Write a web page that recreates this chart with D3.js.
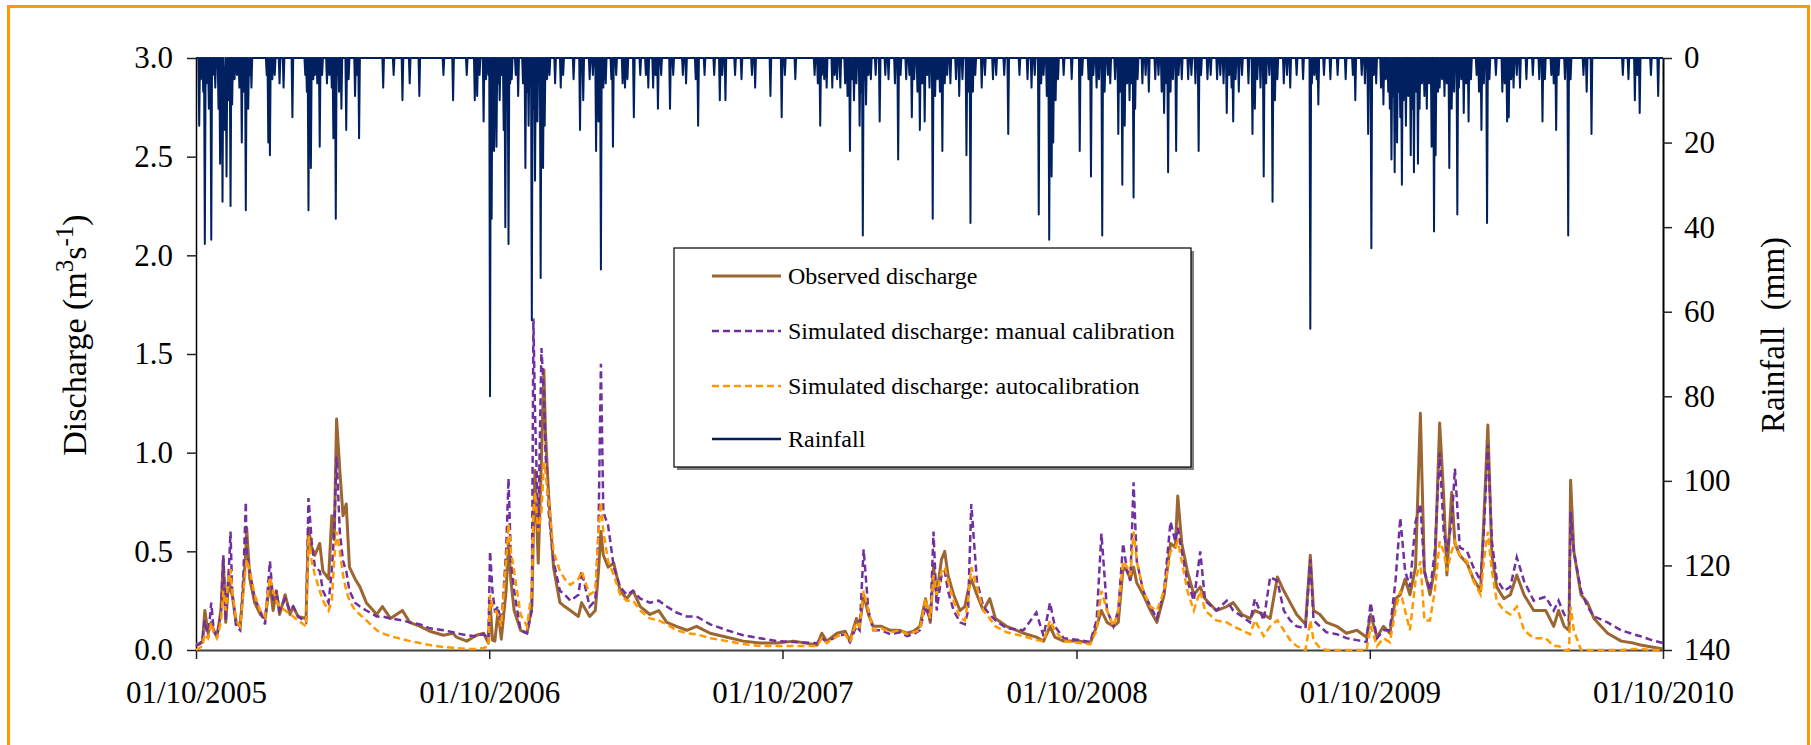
<!DOCTYPE html>
<html>
<head>
<meta charset="utf-8">
<script src="https://cdn.jsdelivr.net/npm/d3@7"></script>
<style>
body { margin: 0; background: #fff; }
svg { display: block; font-family: "Liberation Serif", "Times New Roman", serif; }
</style>
</head>
<body>
<div class="chart"></div>
<script>
var width = 1811,
    height = 745;
var plotLeft = 196, plotRight = 1663, plotTop = 58, plotBottom = 650;

// x axis: days counted from 01/10/2005
var startDate = new Date(2005, 9, 1);
var tickDates = ["2005-10-01", "2006-10-01", "2007-10-01", "2008-10-01", "2009-10-01", "2010-10-01"];
var qTicks = [0, 0.5, 1.0, 1.5, 2.0, 2.5, 3.0];
var rainTicks = [0, 20, 40, 60, 80, 100, 120, 140];

// discharge (m3/s) read at these days
var qDays = [0,4,8,11,15,19,22,26,31,34,37,41,43,45,50,55,59,62,63,67,73,80,86,92,96,100,104,111,117,121,127,137,
  140,144,148,154,158,165,169,172,175,179,183,187,191,198,204,212,225,232,242,257,266,279,291,308,320,324,337,349,358,364,
  366,369,372,376,380,386,389,392,396,404,412,418,420,422,426,430,433,435,439,445,453,459,466,476,480,490,497,
  501,504,507,513,520,528,536,544,553,565,576,586,598,611,623,640,661,681,702,723,744,773,779,785,798,808,814,
  822,826,831,837,843,853,864,876,885,893,901,908,914,918,922,928,932,936,943,951,957,961,965,972,980,988,995,
  1009,1030,1046,1055,1063,1069,1080,1100,1113,1121,1127,1134,1142,1148,1154,1159,1163,1167,1171,1179,1188,1196,
  1205,1213,1219,1222,1227,1234,1242,1250,1256,1270,1283,1291,1302,1312,1318,1329,1337,1346,1354,1362,1370,1381,
  1387,1391,1399,1407,1420,1432,1445,1457,1462,1470,1478,1486,1493,1499,1505,1511,1518,1524,1529,1536,1542,1548,
  1553,1557,1563,1567,1573,1582,1590,1599,1603,1608,1613,1619,1628,1636,1644,1653,1665,1680,1690,1696,1703,1709,
  1711,1715,1724,1732,1740,1757,1774,1789,1798,1812,1826];

var observed = [0.03,0.03,0.04,0.2,0.085,0.14,0.1,0.065,0.2,0.46,0.14,0.38,0.3,0.28,0.14,0.12,0.32,0.5,0.62,0.36,0.24,0.18,0.16,0.34,0.2,0.3,0.18,0.28,0.18,0.22,0.17,0.16,
  0.62,0.52,0.48,0.54,0.4,0.36,0.68,0.56,1.17,0.91,0.68,0.74,0.42,0.36,0.32,0.24,0.18,0.22,0.16,0.2,0.14,0.12,0.095,0.075,0.085,0.065,0.045,0.075,0.085,0.035,
  0.25,0.05,0.045,0.2,0.055,0.3,0.54,0.35,0.2,0.1,0.085,0.22,0.6,0.91,0.44,0.97,1.42,1.1,0.78,0.42,0.24,0.22,0.2,0.17,0.24,0.17,0.2,
  0.4,0.6,0.48,0.42,0.44,0.3,0.26,0.3,0.22,0.18,0.2,0.14,0.12,0.1,0.12,0.085,0.065,0.045,0.035,0.035,0.045,0.025,0.085,0.045,0.085,0.095,0.045,
  0.16,0.12,0.28,0.18,0.12,0.12,0.1,0.1,0.085,0.095,0.12,0.26,0.14,0.42,0.28,0.46,0.5,0.38,0.28,0.2,0.22,0.3,0.36,0.28,0.2,0.26,0.16,
  0.12,0.085,0.065,0.045,0.12,0.065,0.045,0.045,0.035,0.12,0.2,0.14,0.12,0.14,0.42,0.4,0.36,0.42,0.34,0.28,0.2,0.14,
  0.28,0.54,0.52,0.78,0.54,0.4,0.28,0.32,0.26,0.2,0.22,0.24,0.18,0.16,0.2,0.18,0.16,0.37,0.3,0.24,0.18,0.13,
  0.48,0.2,0.18,0.14,0.12,0.085,0.1,0.065,0.18,0.065,0.12,0.085,0.26,0.28,0.36,0.28,0.42,1.2,0.4,0.28,0.42,1.15,
  0.78,0.38,0.8,0.54,0.48,0.44,0.36,0.3,0.66,1.14,0.48,0.32,0.26,0.28,0.38,0.28,0.2,0.2,0.12,0.2,0.12,0.1,
  0.86,0.5,0.28,0.24,0.16,0.085,0.045,0.035,0.025,0.015,0.005];

var manual = [0.02,0.03,0.05,0.15,0.06,0.24,0.1,0.07,0.18,0.48,0.15,0.42,0.6,0.3,0.12,0.1,0.38,0.75,0.5,0.4,0.26,0.2,0.13,0.45,0.25,0.3,0.2,0.26,0.2,0.22,0.17,0.14,
  0.77,0.55,0.42,0.4,0.3,0.24,0.4,0.6,0.98,0.6,0.45,0.4,0.3,0.24,0.22,0.2,0.17,0.17,0.16,0.15,0.14,0.13,0.11,0.1,0.09,0.085,0.075,0.07,0.08,0.06,
  0.5,0.3,0.2,0.22,0.12,0.5,0.87,0.45,0.3,0.1,0.085,0.2,1.68,1.2,0.6,1.53,1.3,1.0,0.7,0.45,0.3,0.28,0.25,0.28,0.4,0.22,0.25,
  0.6,1.45,0.7,0.63,0.42,0.32,0.28,0.3,0.26,0.24,0.25,0.22,0.19,0.17,0.17,0.13,0.1,0.075,0.06,0.045,0.04,0.035,0.06,0.04,0.07,0.08,0.04,
  0.12,0.1,0.51,0.2,0.1,0.1,0.08,0.09,0.07,0.08,0.1,0.22,0.15,0.6,0.2,0.38,0.4,0.3,0.2,0.14,0.13,0.2,0.74,0.35,0.22,0.18,0.15,
  0.11,0.1,0.19,0.07,0.24,0.12,0.06,0.05,0.04,0.15,0.59,0.2,0.12,0.2,0.54,0.4,0.35,0.85,0.45,0.3,0.22,0.16,
  0.3,0.65,0.55,0.62,0.5,0.35,0.25,0.5,0.25,0.2,0.25,0.2,0.17,0.14,0.26,0.15,0.37,0.35,0.2,0.15,0.12,0.11,
  0.46,0.15,0.12,0.09,0.08,0.06,0.05,0.04,0.24,0.06,0.1,0.1,0.35,0.67,0.4,0.32,0.65,0.74,0.4,0.3,0.5,1.0,
  0.6,0.5,0.65,0.92,0.52,0.5,0.42,0.35,0.6,1.04,0.55,0.36,0.3,0.32,0.47,0.35,0.25,0.27,0.2,0.25,0.18,0.15,
  0.7,0.5,0.3,0.22,0.17,0.14,0.1,0.08,0.07,0.05,0.035];

var auto = [0,0.01,0.02,0.08,0.06,0.14,0.09,0.06,0.14,0.3,0.2,0.38,0.41,0.3,0.15,0.12,0.3,0.42,0.46,0.4,0.28,0.2,0.17,0.37,0.3,0.25,0.22,0.2,0.18,0.17,0.15,0.12,
  0.58,0.45,0.38,0.3,0.25,0.2,0.25,0.45,0.6,0.5,0.38,0.3,0.25,0.2,0.18,0.15,0.1,0.085,0.07,0.055,0.045,0.035,0.025,0.015,0.012,0.01,0.005,0.005,0.01,0.02,
  0.28,0.22,0.2,0.18,0.12,0.45,0.64,0.5,0.4,0.18,0.12,0.3,0.7,0.8,0.6,0.7,0.95,0.9,0.75,0.5,0.4,0.36,0.33,0.36,0.4,0.28,0.3,
  0.6,0.75,0.6,0.45,0.38,0.28,0.25,0.25,0.2,0.16,0.15,0.13,0.1,0.085,0.08,0.06,0.045,0.03,0.02,0.02,0.02,0.02,0.06,0.035,0.07,0.08,0.04,
  0.14,0.12,0.3,0.2,0.1,0.11,0.09,0.1,0.08,0.09,0.1,0.26,0.16,0.38,0.28,0.4,0.42,0.35,0.25,0.16,0.15,0.25,0.42,0.32,0.2,0.16,0.12,
  0.09,0.07,0.05,0.045,0.15,0.1,0.045,0.035,0.03,0.1,0.3,0.2,0.12,0.2,0.45,0.42,0.38,0.6,0.45,0.3,0.22,0.2,
  0.3,0.5,0.52,0.55,0.45,0.3,0.2,0.3,0.2,0.15,0.14,0.12,0.1,0.08,0.15,0.07,0.12,0.15,0.1,0.05,0.02,0,
  0.15,0.05,0.01,0,0,0,0,0,0.12,0.02,0.06,0.04,0.2,0.3,0.2,0.1,0.35,0.45,0.15,0.15,0.3,0.55,
  0.5,0.4,0.5,0.55,0.48,0.45,0.35,0.28,0.45,0.6,0.4,0.25,0.2,0.18,0.22,0.1,0.06,0.06,0.02,0.02,0,0,
  0.22,0.1,0,0,0,0,0,0.005,0.005,0,0];

// daily rainfall (mm), only the days with rain are listed
var rainDays = [4,6,9,11,13,16,19,21,24,28,30,33,35,36,38,40,43,45,48,51,54,57,59,62,65,67,69,88,90,92,
  95,98,104,109,120,136,138,140,143,146,148,151,154,157,163,166,169,171,174,176,178,181,187,190,198,201,203,233,246,257,
  266,278,308,320,337,347,350,353,358,361,364,
  366,368,371,374,376,378,380,383,385,387,389,391,393,398,401,407,410,412,414,416,418,420,422,425,427,429,432,434,437,440,
  447,454,457,470,478,482,490,494,498,501,504,507,510,517,519,523,531,534,537,545,553,560,563,569,572,575,579,590,594,606,
  610,622,625,633,645,652,655,659,671,679,692,696,715,729,
  733,746,770,774,777,779,782,785,792,795,798,802,808,811,814,817,819,822,826,828,830,832,834,837,840,846,851,858,862,870,
  874,877,884,888,891,894,898,901,904,907,910,913,917,920,923,926,929,932,935,939,946,950,954,959,962,964,967,970,978,982,
  992,996,1006,1011,1025,1035,1040,1044,1049,1052,1055,1059,1062,1065,1067,1070,1073,1080,1090,
  1100,1103,1111,1114,1117,1121,1124,1128,1131,1135,1138,1144,1148,1150,1153,1156,1159,1162,1164,1167,
  1169,1172,1178,1182,1186,1194,1198,1202,1205,1208,1210,1213,1216,1220,1223,1227,1235,1239,1244,1248,
  1251,1259,1263,1271,1275,1279,1283,1286,1289,1291,1294,1298,1302,1310,1315,1318,1321,1325,1329,1332,
  1336,1340,1343,1346,1354,1358,1362,1370,1378,1387,1389,1392,1395,1397,1404,1412,1421,1431,1440,1443,1451,1455,1459,
  1463,1466,1469,1475,1478,1481,1484,1486,1488,1490,1492,1495,1497,1499,1501,1503,1506,1509,1512,1514,
  1516,1519,1521,1523,1526,1529,1532,1535,1538,1541,1543,1546,1548,1551,1554,1557,1560,1563,1566,1570,
  1572,1575,1578,1581,1584,1587,1594,1597,1600,1603,1607,1610,1618,1626,1629,1632,1634,1637,1640,1644,
  1648,1656,1664,1672,1676,1679,1687,1690,1693,1696,1704,1708,1711,1727,1731,1737,1776,1783,1791,1794,1797,1811,1820];

var rainMm = [16,5,8,44,6,12,43,4,7,12,25,34,6,17,28,10,35,11,5,4,7,20,8,36,12,4,7,4,20,23,
  5,4,6,7,14,4,8,36,26,5,4,6,21,4,6,4,7,19,38,4,8,12,17,5,9,4,19,7,4,10,
  6,9,4,10,4,10,9,4,15,5,4,
  80,38,22,21,6,10,4,17,40,8,44,6,5,4,9,6,26,8,16,5,62,12,29,15,6,52,26,16,5,4,
  6,7,4,5,17,10,5,4,22,15,50,7,6,5,21,4,6,7,5,14,4,4,7,7,4,12,4,12,4,4,
  6,5,16,4,4,10,4,10,4,5,4,7,9,14,
  4,5,4,6,16,4,5,7,7,4,5,7,6,9,22,5,10,6,16,8,42,5,11,4,5,4,15,4,5,6,
  24,4,5,4,14,5,8,17,6,15,4,7,38,9,5,8,22,6,4,6,5,9,5,23,8,39,8,4,7,4,
  5,4,4,18,4,5,7,4,37,6,4,9,43,28,20,10,5,4,5,
  22,4,5,28,4,7,5,42,8,4,6,5,18,8,30,16,6,10,6,33,
  12,5,6,4,8,5,4,8,13,6,27,8,5,22,4,5,5,4,6,22,
  4,5,4,5,4,6,13,4,7,15,5,8,4,6,18,12,5,7,28,6,
  4,34,10,5,6,4,7,4,5,64,6,4,5,11,4,5,4,5,4,10,4,6,18,
  45,4,6,7,11,5,8,12,24,9,27,20,8,14,30,10,16,9,23,12,
  27,8,25,12,6,9,12,6,21,41,23,8,7,5,9,6,26,12,8,37,
  7,5,13,6,15,5,4,8,17,6,39,5,4,8,6,15,14,5,7,4,
  7,5,4,5,15,5,4,6,17,4,5,42,5,4,8,18,4,5,10,4,13,4,9];

var legendNames = ["Observed discharge", "Simulated discharge: manual calibration",
                   "Simulated discharge: autocalibration", "Rainfall"];

var colors = { obs: "#9B6631", man: "#7030A0", auto: "#FF9900", rain: "#002060" };

function dayDate(d) { return d3.timeDay.offset(startDate, d); }

function build_svg(c) {
    return c.append("svg").attr("width", width).attr("height", height);
}

function main() {
    var svg = build_svg(d3.select(".chart"));

    // orange frame
    svg.append("rect")
        .attr("x", 8.5).attr("y", 6.5)
        .attr("width", 1800).attr("height", 760)
        .attr("fill", "#fff").attr("stroke", "#FF9900").attr("stroke-width", 3);

    var endDate = dayDate(1826);
    var x = d3.scaleTime().domain([startDate, endDate]).range([plotLeft, plotRight]);
    var yQ = d3.scaleLinear().domain([0, 3]).range([plotBottom, plotTop]);
    var yR = d3.scaleLinear().domain([0, 140]).range([plotTop, plotBottom]);

    var parse = d3.timeParse("%Y-%m-%d");
    var fmt = d3.timeFormat("%d/%m/%Y");

    // axes
    var xAxis = d3.axisBottom(x).tickValues(tickDates.map(parse)).tickFormat(fmt)
        .tickSize(9).tickSizeOuter(0).tickPadding(22);
    var gx = svg.append("g").attr("class", "x axis")
        .attr("transform", "translate(0," + plotBottom + ")").call(xAxis);
    gx.select(".domain").attr("stroke", "#404040").attr("stroke-width", 2);

    var gl = svg.append("g").attr("transform", "translate(" + plotLeft + ",0)")
        .call(d3.axisLeft(yQ).tickValues(qTicks).tickFormat(d3.format(".1f"))
            .tickSize(9).tickSizeOuter(0).tickPadding(14));
    gl.select(".domain").attr("stroke-width", 1.5);

    var gr = svg.append("g").attr("transform", "translate(" + plotRight + ",0)")
        .call(d3.axisRight(yR).tickValues(rainTicks).tickSize(9).tickSizeOuter(0).tickPadding(12));
    gr.select(".domain").attr("stroke-width", 2);

    svg.selectAll(".tick line").attr("stroke", "#222").attr("stroke-width", 1.5);
    svg.selectAll(".tick text").attr("font-size", 31).attr("fill", "#000")
        .attr("font-family", "Liberation Serif, Times New Roman, serif");

    // grey line along the top
    svg.append("line").attr("x1", plotLeft).attr("x2", plotRight).attr("y1", plotTop).attr("y2", plotTop)
        .attr("stroke", "#999").attr("stroke-width", 2);

    // axis titles
    var tl = svg.append("text").attr("transform", "translate(86,335) rotate(-90)")
        .attr("text-anchor", "middle").attr("font-size", 34);
    tl.append("tspan").text("Discharge (m");
    tl.append("tspan").attr("font-size", 25).attr("dy", -13).text("3");
    tl.append("tspan").attr("dy", 13).text("s");
    tl.append("tspan").attr("font-size", 25).attr("dy", -13).text("-1");
    tl.append("tspan").attr("dy", 13).text(")");

    svg.append("text").attr("transform", "translate(1784,335) rotate(-90)")
        .attr("text-anchor", "middle").attr("font-size", 33)
        .attr("xml:space", "preserve").text("Rainfall  (mm)");

    // discharge series
    function qLine(vals) {
        return d3.line().x(function(d, i) { return x(dayDate(qDays[i])); })
                        .y(function(d) { return yQ(d); })(vals);
    }
    svg.append("path").attr("d", qLine(observed)).attr("fill", "none")
        .attr("stroke", colors.obs).attr("stroke-width", 3).attr("stroke-linejoin", "round");
    svg.append("path").attr("d", qLine(manual)).attr("fill", "none")
        .attr("stroke", colors.man).attr("stroke-width", 2.5).attr("stroke-dasharray", "7,4");
    svg.append("path").attr("d", qLine(auto)).attr("fill", "none")
        .attr("stroke", colors.auto).attr("stroke-width", 2.5).attr("stroke-dasharray", "7,4");

    // rainfall, daily with dry days at 0
    var rainMap = new Map();
    rainDays.forEach(function(d, i) { rainMap.set(d, rainMm[i]); });
    var rainDaily = d3.range(0, 1827).map(function(d) { return [d, rainMap.get(d) || 0]; });
    svg.append("path")
        .attr("d", d3.line().x(function(d) { return x(dayDate(d[0])); })
                            .y(function(d) { return yR(d[1]); })(rainDaily))
        .attr("fill", "none").attr("stroke", colors.rain).attr("stroke-width", 2)
        .attr("stroke-linejoin", "round");

    // legend
    var lx = 674, ly = 248, lw = 517, lh = 219;
    svg.append("rect").attr("x", lx + 3).attr("y", ly + 3).attr("width", lw).attr("height", lh)
        .attr("fill", "#808080");
    svg.append("rect").attr("x", lx).attr("y", ly).attr("width", lw).attr("height", lh)
        .attr("fill", "#fff").attr("stroke", "#000").attr("stroke-width", 1.2);
    var keys = ["obs", "man", "auto", "rain"];
    var rowY = [276, 331, 386, 439];
    keys.forEach(function(k, i) {
        var ln = svg.append("line").attr("x1", 712).attr("x2", 781)
            .attr("y1", rowY[i]).attr("y2", rowY[i])
            .attr("stroke", colors[k]).attr("stroke-width", k == "obs" ? 3 : 2.5);
        if (k == "man" || k == "auto") ln.attr("stroke-dasharray", "7,4");
        svg.append("text").attr("x", 788).attr("y", rowY[i] + 8)
            .attr("font-size", 24).text(legendNames[i]);
    });
}

main();
</script>
</body>
</html>
